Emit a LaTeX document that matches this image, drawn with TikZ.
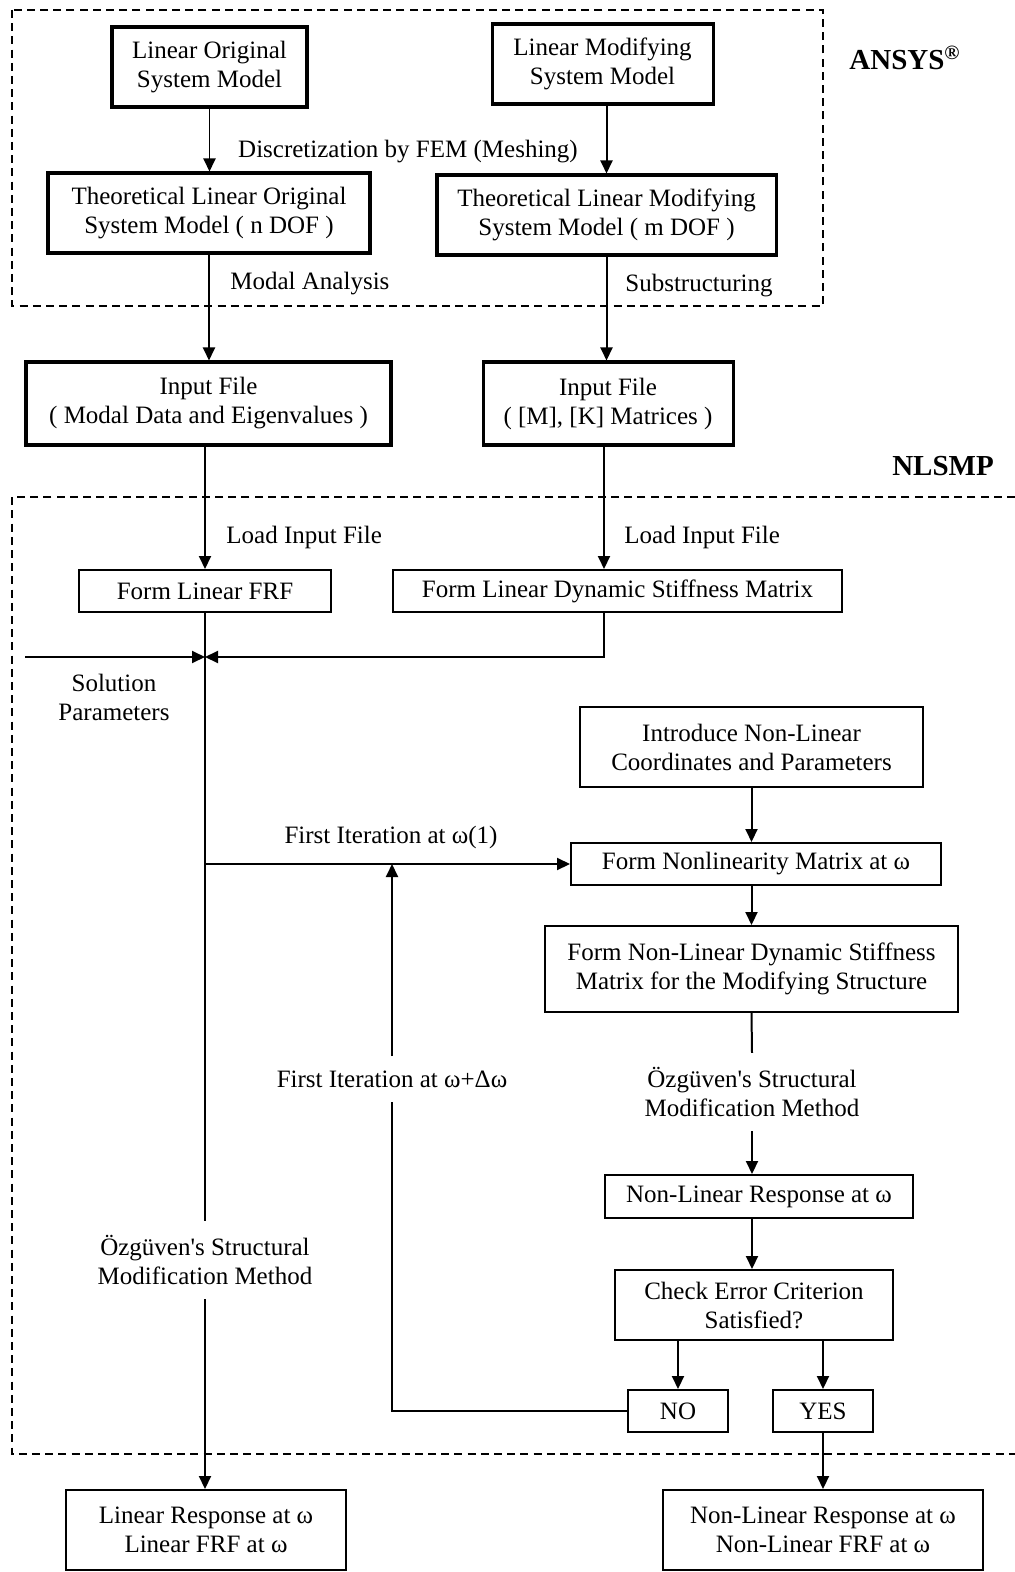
\documentclass[tikz,border=0pt]{standalone}
\usepackage{fontspec}
\setmainfont{Liberation Serif}
\usetikzlibrary{arrows.meta}
\tikzset{
  box/.style={draw, line width=0.035cm, align=center, inner sep=0pt,
    font=\fontsize{12.5}{14.5}\selectfont},
  heavybox/.style={box, line width=0.053cm},
  lbl/.style={align=center, inner sep=1pt, yshift=-1.5pt, font=\fontsize{12.5}{14.5}\selectfont},
  cut/.style={lbl, inner xsep=1pt, inner ysep=7pt},
  tool/.style={font=\fontsize{14.5}{16}\selectfont\bfseries, inner sep=0pt},
  ln/.style={line width=0.035cm},
  arr/.style={line width=0.035cm, -{Triangle[length=6.5pt,width=6pt]}},
  frame/.style={line width=0.045cm, dash pattern=on 4pt off 2.6pt}
}
\begin{document}
\begin{tikzpicture}[x=0.5pt,y=-0.5pt]
            \useasboundingbox (0,0) rectangle (1015,1572);

            % Drawing frame ANSYS
            \draw [frame] (12,10) rectangle (823,306);%
            \node [tool] (ansys) at (905,58) {ANSYS\textsuperscript{®}};%

            % Drawing frame NLSMP
            \draw [frame] (1015,497) -- (12,497) -- (12,1454) -- (1015,1454);%
            \node [tool] (nlsmp) at (943,466) {NLSMP};%

            % Drawing boxes of the model
            \node [heavybox, minimum width=97.5pt, minimum height=40pt] (origmodel) at (209.5,67) {Linear Original\\System Model};%
            \node [heavybox, minimum width=110.5pt, minimum height=40pt] (modmodel) at (602.5,64) {Linear Modifying\\System Model};%
            \node [heavybox, minimum width=161pt, minimum height=40pt] (theoorig) at (209,213) {Theoretical Linear Original\\System Model ( n DOF )};%
            \node [heavybox, minimum width=169.5pt, minimum height=40pt] (theomod) at (606.5,215) {Theoretical Linear Modifying\\System Model ( m DOF )};%
            \node [heavybox, minimum width=182.5pt, minimum height=41.5pt] (inorig) at (208.5,403.5) {Input File\\( Modal Data and Eigenvalues )};%
            \node [heavybox, minimum width=125pt, minimum height=41.5pt] (inmod) at (608,403.5) {Input File\\( [M], [K] Matrices )};%

            % Drawing boxes of NLSMP
            \node [box, minimum width=126pt, minimum height=21pt] (formfrf) at (205,591) {Form Linear FRF};%
            \node [box, minimum width=224.5pt, minimum height=21pt] (formdsm) at (617.5,591) {Form Linear Dynamic Stiffness Matrix};%
            \node [box, minimum width=171.5pt, minimum height=40pt] (introduce) at (751.5,747) {Introduce Non-Linear\\Coordinates and Parameters};%
            \node [box, minimum width=185pt, minimum height=21pt] (formnlm) at (756,864) {Form Nonlinearity Matrix at ω};%
            \node [box, minimum width=206.5pt, minimum height=43pt] (formnldsm) at (751.5,969) {Form Non-Linear Dynamic Stiffness\\Matrix for the Modifying Structure};%
            \node [box, minimum width=154pt, minimum height=21.5pt] (nlresp) at (759,1196.5) {Non-Linear Response at ω};%
            \node [box, minimum width=139pt, minimum height=35pt] (check) at (754,1305) {Check Error Criterion\\Satisfied?};%
            \node [box, minimum width=50pt, minimum height=21pt] (no) at (678,1411) {NO};%
            \node [box, minimum width=50pt, minimum height=21pt] (yes) at (823,1411) {YES};%

            % Drawing output boxes
            \node [box, minimum width=140pt, minimum height=40pt] (linout) at (206,1530) {Linear Response at ω\\Linear FRF at ω};%
            \node [box, minimum width=160pt, minimum height=40pt] (nlout) at (823,1530) {Non-Linear Response at ω\\Non-Linear FRF at ω};%

            % Marking labels
            \node [lbl] (mesh) at (408,149) {Discretization by FEM (Meshing)};%
            \node [lbl, anchor=west] (modal) at (228,281) {Modal Analysis};%
            \node [lbl, anchor=west] (substr) at (623,283) {Substructuring};%
            \node [lbl, anchor=west] (loadorig) at (224,534) {Load Input File};%
            \node [lbl, anchor=west] (loadmod) at (622,534) {Load Input File};%
            \node [lbl] (solpar) at (114,694) {Solution\\Parameters};%
            \node [lbl] (iterone) at (391,834) {First Iteration at ω(1)};%
            \node [cut] (itertwo) at (392,1076) {First Iteration at ω+Δω};%
            \node [cut] (ozright) at (752,1089) {Özgüven\textquotesingle s Structural\\Modification Method};%
            \node [cut] (ozleft) at (205,1257) {Özgüven\textquotesingle s Structural\\Modification Method};%

            % Drawing lines of ANSYS
            \draw [arr] (origmodel.south) -- (origmodel.south |- theoorig.north);%
            \draw [arr] (modmodel.south -| theomod.north) -- (theomod.north);%
            \draw [arr] (theoorig.south) -- (theoorig.south |- inorig.north);%
            \draw [arr] (theomod.south) -- (theomod.south |- inmod.north);%

            % Drawing lines to NLSMP
            \draw [arr] (inorig.south -| formfrf.north) -- (formfrf.north);%
            \draw [arr] (inmod.south -| 604,0) -- (formdsm.north -| 604,0);%

            % Drawing junction of FRF and stiffness matrix
            \coordinate (junc) at (205,657);%
            \coordinate (solstart) at (25,657);%
            \draw [arr] (solstart) -- (junc);%
            \draw [arr] (formdsm.south -| 604,0) |- (junc);%

            % Drawing line V linear response
            \draw [ln] (formfrf.south) -- (ozleft.north);%
            \draw [arr] (ozleft.south) -- (ozleft.south |- linout.north);%
            \draw [arr] (formfrf.south |- formnlm.west) -- (formnlm.west);%

            % Drawing non-linear chain
            \draw [arr] (introduce.south) -- (introduce.south |- formnlm.north);%
            \draw [arr] (formnldsm.north |- formnlm.south) -- (formnldsm.north);%
            \draw [ln] (formnldsm.south) -- (ozright.north);%
            \draw [arr] (ozright.south) -- (ozright.south |- nlresp.north);%
            \draw [arr] (ozright.south |- nlresp.south) -- (ozright.south |- check.north);%
            \draw [arr] (no.north |- check.south) -- (no.north);%
            \draw [arr] (yes.north |- check.south) -- (yes.north);%

            % Drawing loop back from NO
            \draw [ln] (no.west) -| (itertwo.south);%
            \draw [arr] (itertwo.north) -- (itertwo.north |- formnlm.west);%

            % Drawing line YES output
            \draw [arr] (yes.south) -- (yes.south |- nlout.north);%
\end{tikzpicture}
\end{document}
